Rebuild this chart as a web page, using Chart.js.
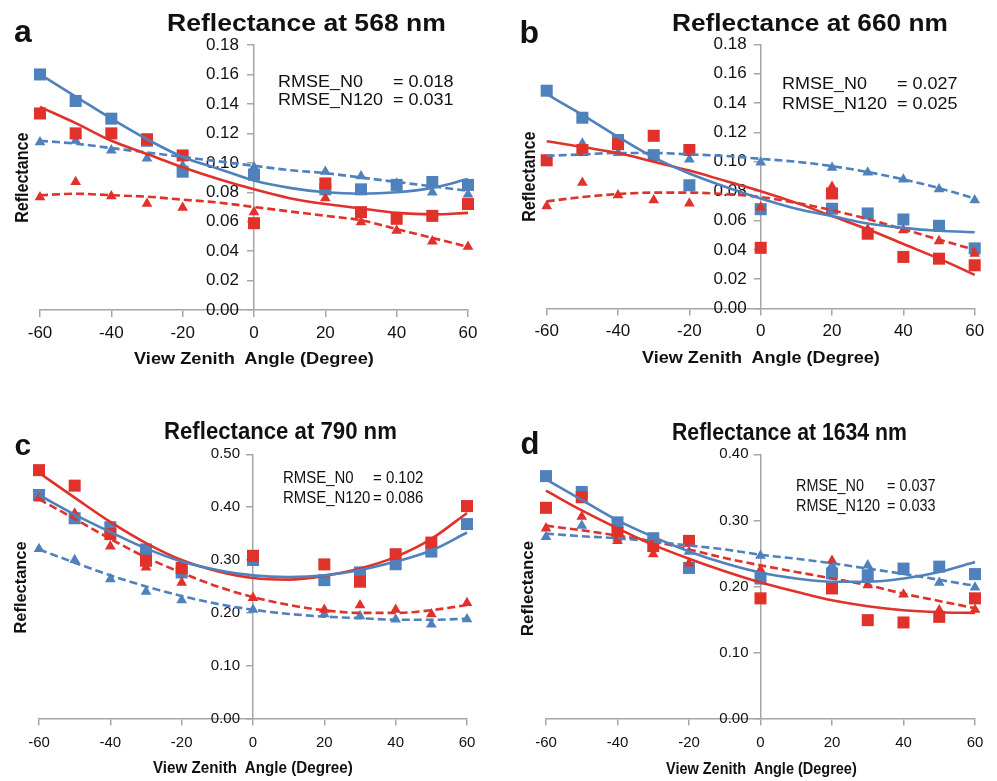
<!DOCTYPE html>
<html>
<head>
<meta charset="utf-8">
<script src="https://cdn.jsdelivr.net/npm/chart.js@4.4.1/dist/chart.umd.min.js"></script>
<style>
  body { margin: 0; background: #fff; width: 997px; height: 781px; position: relative; overflow: hidden; font-family: 'Liberation Sans', Arial, sans-serif; }
  canvas { position: absolute; }
  .lbl { position: absolute; white-space: pre; color: #111; transform-origin: 0 50%; }
</style>
</head>
<body>
<canvas id="c568" width="498" height="392" style="left:0;top:0"></canvas>
<canvas id="c660" width="499" height="392" style="left:498px;top:0"></canvas>
<canvas id="c790" width="498" height="389" style="left:0;top:392px"></canvas>
<canvas id="c1634" width="499" height="389" style="left:498px;top:392px"></canvas>
<script>
// ---- dados ----
const angles = [-60, -50, -40, -30, -20, 0, 20, 30, 40, 50, 60];
const fitAngles = [-60, -50, -40, -30, -20, -10, 0, 10, 20, 30, 40, 50, 60];

// 568 nm
const obsN0_568   = [0.160, 0.142, 0.130, 0.115, 0.094, 0.092, 0.082, 0.082, 0.085, 0.087, 0.085];
const obsN120_568 = [0.1335, 0.120, 0.120, 0.116, 0.105, 0.059, 0.086, 0.0665, 0.062, 0.064, 0.072];
const simN0_568   = [0.114, 0.115, 0.1085, 0.103, 0.098, 0.097, 0.094, 0.091, 0.086, 0.080, 0.0785];
const simN120_568 = [0.0767, 0.087, 0.0774, 0.0722, 0.0695, 0.0665, 0.076, 0.0597, 0.054, 0.0467, 0.0431];
const fitObsN0_568   = [0.160, 0.145, 0.130, 0.116, 0.104, 0.096, 0.088, 0.083, 0.080, 0.079, 0.080, 0.083, 0.089];
const fitObsN120_568 = [0.138, 0.127, 0.115, 0.106, 0.097, 0.089, 0.082, 0.076, 0.072, 0.069, 0.066, 0.065, 0.066];
const fitSimN0_568   = [0.115, 0.113, 0.110, 0.107, 0.104, 0.101, 0.098, 0.095, 0.093, 0.090, 0.087, 0.084, 0.081];
const fitSimN120_568 = [0.078, 0.079, 0.078, 0.077, 0.075, 0.073, 0.070, 0.067, 0.064, 0.061, 0.055, 0.049, 0.043];

// 660 nm
const obsN0_660   = [0.1484, 0.130, 0.1148, 0.1045, 0.084, 0.0677, 0.068, 0.0648, 0.0607, 0.0564, 0.041];
const obsN120_660 = [0.101, 0.108, 0.112, 0.1177, 0.108, 0.0414, 0.0784, 0.051, 0.0352, 0.034, 0.0295];
const simN0_660   = [0.101, 0.1125, 0.106, 0.104, 0.1016, 0.0995, 0.096, 0.0927, 0.088, 0.0814, 0.0739];
const simN120_660 = [0.0698, 0.0857, 0.0773, 0.0739, 0.0716, 0.0689, 0.083, 0.054, 0.0534, 0.046, 0.0375];
const fitObsN0_660   = [0.146, 0.132, 0.117, 0.103, 0.092, 0.083, 0.075, 0.068, 0.063, 0.058, 0.055, 0.053, 0.052];
const fitObsN120_660 = [0.114, 0.110, 0.106, 0.100, 0.094, 0.087, 0.080, 0.072, 0.063, 0.054, 0.044, 0.034, 0.023];
const fitSimN0_660   = [0.104, 0.105, 0.106, 0.106, 0.105, 0.104, 0.102, 0.100, 0.097, 0.093, 0.088, 0.082, 0.075];
const fitSimN120_660 = [0.073, 0.076, 0.078, 0.079, 0.079, 0.078, 0.076, 0.072, 0.067, 0.061, 0.054, 0.047, 0.040];

// 790 nm
const obsN0_790   = [0.423, 0.379, 0.362, 0.320, 0.2765, 0.300, 0.262, 0.2765, 0.292, 0.316, 0.368];
const obsN120_790 = [0.470, 0.4407, 0.349, 0.2986, 0.285, 0.308, 0.2917, 0.259, 0.311, 0.333, 0.402];
const simN0_790   = [0.321, 0.300, 0.264, 0.240, 0.224, 0.206, 0.1976, 0.194, 0.1875, 0.178, 0.188];
const simN120_790 = [0.4167, 0.388, 0.326, 0.286, 0.257, 0.2285, 0.206, 0.2146, 0.206, 0.1976, 0.219];
const fitObsN0_790   = [0.423, 0.386, 0.353, 0.322, 0.297, 0.281, 0.271, 0.268, 0.271, 0.281, 0.297, 0.318, 0.352];
const fitObsN120_790 = [0.465, 0.418, 0.372, 0.332, 0.300, 0.279, 0.266, 0.263, 0.270, 0.284, 0.306, 0.340, 0.389];
const fitSimN0_790   = [0.320, 0.295, 0.271, 0.250, 0.232, 0.217, 0.206, 0.198, 0.193, 0.190, 0.187, 0.187, 0.189];
const fitSimN120_790 = [0.415, 0.378, 0.340, 0.305, 0.276, 0.250, 0.230, 0.215, 0.205, 0.200, 0.200, 0.205, 0.215];

// 1634 nm
const obsN0_1634   = [0.367, 0.343, 0.297, 0.273, 0.228, 0.212, 0.2197, 0.217, 0.227, 0.230, 0.2187];
const obsN120_1634 = [0.319, 0.335, 0.281, 0.261, 0.269, 0.182, 0.197, 0.149, 0.1455, 0.154, 0.182];
const simN0_1634   = [0.275, 0.292, 0.273, 0.258, 0.2525, 0.2465, 0.232, 0.232, 0.222, 0.2056, 0.1985];
const simN120_1634 = [0.288, 0.3056, 0.269, 0.249, 0.235, 0.225, 0.239, 0.202, 0.188, 0.164, 0.165];
const fitObsN0_1634   = [0.362, 0.331, 0.300, 0.275, 0.253, 0.235, 0.221, 0.212, 0.207, 0.207, 0.212, 0.222, 0.237];
const fitObsN120_1634 = [0.345, 0.315, 0.288, 0.263, 0.242, 0.223, 0.206, 0.192, 0.179, 0.170, 0.164, 0.161, 0.160];
const fitSimN0_1634   = [0.280, 0.276, 0.273, 0.268, 0.262, 0.256, 0.248, 0.242, 0.235, 0.227, 0.219, 0.210, 0.201];
const fitSimN120_1634 = [0.292, 0.285, 0.277, 0.268, 0.256, 0.243, 0.232, 0.222, 0.212, 0.202, 0.189, 0.178, 0.167];

const yMax = [0.18, 0.18, 0.50, 0.40];
const yStep = [0.02, 0.02, 0.10, 0.10];
const xTicks = [-60, -40, -20, 0, 20, 40, 60];

const BLUE = '#4f81bd', RED = '#e0312a', AXIS = '#a6a6a6';

const pts = (xs, ys) => ys.map((v, i) => ({ x: xs[i], y: v }));

function marks(ys, color, shape, order) {
    return { data: pts(angles, ys), pointStyle: shape, pointRadius: shape === 'rect' ? 8.5 : 6.2,
        pointBackgroundColor: color, pointBorderWidth: 0, showLine: false, clip: false, order: order };
}
function fit(ys, color, dashed) {
    return { data: pts(fitAngles, ys), showLine: true, pointRadius: 0, borderColor: color, borderWidth: 2.6,
        borderDash: dashed ? [8, 4] : [], cubicInterpolationMode: 'monotone', clip: false, order: 0 };
}

// eixo Y cruzando em x = 0 (rótulos à esquerda da linha)
const midAxis = {
    id: 'midAxis',
    afterLayout(chart) {
        const y = chart.scales.y;
        const px = chart.scales.x.getPixelForValue(0);
        y.left = 0; y.right = px;
    }
};

function drawPanel(id, k, series, pad, fs, yPad, xPad) {
    const [oN0, oN120, sN0, sN120, fO0, fO120, fS0, fS120] = series;
    new Chart(document.getElementById(id), {
        type: 'scatter',
        data: { datasets: [
            fit(fO0, BLUE, false), fit(fO120, RED, false), fit(fS0, BLUE, true), fit(fS120, RED, true),
            marks(sN120, RED, 'triangle', 1), marks(oN120, RED, 'rect', 2),
            marks(sN0, BLUE, 'triangle', 3), marks(oN0, BLUE, 'rect', 4)
        ] },
        plugins: [midAxis],
        options: {
            responsive: false, animation: false, devicePixelRatio: 1,
            layout: { padding: pad },
            plugins: { legend: { display: false }, tooltip: { enabled: false } },
            scales: {
                x: { type: 'linear', min: -60, max: 60, position: 'bottom',
                    afterBuildTicks: s => { s.ticks = xTicks.map(v => ({ value: v })); },
                    ticks: { color: '#111', font: { size: fs, family: "'Liberation Sans', Arial" }, padding: xPad, maxRotation: 0 },
                    grid: { drawOnChartArea: false, drawTicks: true, tickLength: 7, color: AXIS, lineWidth: 1.5 },
                    border: { display: true, color: AXIS, width: 1.5 } },
                y: { type: 'linear', min: 0, max: yMax[k], position: 'left',
                    afterFit: s => { s.width = 0; },
                    ticks: { stepSize: yStep[k], color: '#111', font: { size: fs, family: "'Liberation Sans', Arial" }, padding: yPad,
                        callback: v => Number(v).toFixed(2) },
                    grid: { drawOnChartArea: false, drawTicks: true, tickLength: 7, color: AXIS, lineWidth: 1.5 },
                    border: { display: true, color: AXIS, width: 1.5 } }
            }
        }
    });
}

drawPanel('c568', 0, [obsN0_568, obsN120_568, simN0_568, simN120_568, fitObsN0_568, fitObsN120_568, fitSimN0_568, fitSimN120_568],
    { left: 40, right: 30, top: 45, bottom: 42.5 }, 17, 8, 6);
drawPanel('c660', 1, [obsN0_660, obsN120_660, simN0_660, simN120_660, fitObsN0_660, fitObsN120_660, fitSimN0_660, fitSimN120_660],
    { left: 48.7, right: 22.3, top: 44.3, bottom: 44 }, 17, 7, 6);
drawPanel('c790', 2, [obsN0_790, obsN120_790, simN0_790, simN120_790, fitObsN0_790, fitObsN120_790, fitSimN0_790, fitSimN120_790],
    { left: 39, right: 31, top: 62.3, bottom: 21.4 }, 15, 6, 8);
drawPanel('c1634', 3, [obsN0_1634, obsN120_1634, simN0_1634, simN120_1634, fitObsN0_1634, fitObsN120_1634, fitSimN0_1634, fitSimN120_1634],
    { left: 48, right: 22, top: 62.3, bottom: 21.4 }, 15, 5, 8);

// ---- textos em HTML ----
function label(text, x0, baseline, fs, bold, opt) {
    const el = document.createElement('div');
    el.className = 'lbl';
    el.textContent = text;
    el.style.fontSize = fs + 'px';
    el.style.lineHeight = fs + 'px';
    el.style.fontWeight = bold ? 'bold' : 'normal';
    document.body.appendChild(el);
    const w = el.offsetWidth;
    let sx = opt && opt.sx ? opt.sx : 1;
    if (opt && opt.w) sx = opt.w / w;
    let left = x0;
    if (opt && opt.center) left = x0 - w * sx / 2;
    el.style.left = left + 'px';
    el.style.top = (baseline - 0.8465 * fs) + 'px';
    el.style.transform = `scaleX(${sx})`;
}
function vlabel(text, cx, cy, fs, len) {
    const el = document.createElement('div');
    el.className = 'lbl';
    el.textContent = text;
    el.style.fontSize = fs + 'px';
    el.style.lineHeight = fs + 'px';
    el.style.fontWeight = 'bold';
    document.body.appendChild(el);
    const w = el.offsetWidth;
    el.style.left = (cx - w / 2) + 'px';
    el.style.top = (cy - fs / 2) + 'px';
    el.style.transformOrigin = '50% 50%';
    el.style.transform = `rotate(-90deg) scaleX(${len / w})`;
}

// letras dos painéis
label('a', 23, 41.7, 32, true, { center: true });
label('b', 529.5, 43.3, 32, true, { center: true });
label('c', 23, 455, 30, true, { center: true });
label('d', 530, 454.3, 31, true, { center: true });

// títulos
label('Reflectance at 568 nm', 167, 31.7, 23.5, true, { w: 279 });
label('Reflectance at 660 nm', 672, 31.7, 23.5, true, { w: 276 });
label('Reflectance at 790 nm', 164, 440, 23.5, true, { w: 233 });
label('Reflectance at 1634 nm', 672, 440.7, 23.5, true, { w: 235 });

// eixos
label('View Zenith  Angle (Degree)', 134, 364, 17, true, { w: 240 });
label('View Zenith  Angle (Degree)', 642, 363.3, 17, true, { w: 238 });
label('View Zenith  Angle (Degree)', 153, 773.3, 16, true, { w: 200 });
label('View Zenith  Angle (Degree)', 666, 775, 16, true, { w: 191 });
vlabel('Reflectance', 23, 178, 17.5, 90);
vlabel('Reflectance', 530, 176.7, 17.5, 90);
vlabel('Reflectance', 20, 587.5, 17, 91.7);
vlabel('Reflectance', 527, 588.3, 17, 95);

// RMSE
const rmse = [
    { x: 278.3, eq: 393.3, b: [87.3, 106], sx: 1.124, v: ['0.018', '0.031'] },
    { x: 781.7, eq: 896.7, b: [90, 110], sx: 1.124, v: ['0.027', '0.025'] },
    { x: 282.7, eq: 372.7, b: [484, 504], sx: 0.935, v: ['0.102', '0.086'] },
    { x: 796, eq: 887.3, b: [491.7, 511.7], sx: 0.90, v: ['0.037', '0.033'] }
];
rmse.forEach(r => {
    label('RMSE_N0', r.x, r.b[0], 16, false, { sx: r.sx });
    label('= ' + r.v[0], r.eq, r.b[0], 16, false, { sx: r.sx });
    label('RMSE_N120', r.x, r.b[1], 16, false, { sx: r.sx });
    label('= ' + r.v[1], r.eq, r.b[1], 16, false, { sx: r.sx });
});
</script>
</body>
</html>
